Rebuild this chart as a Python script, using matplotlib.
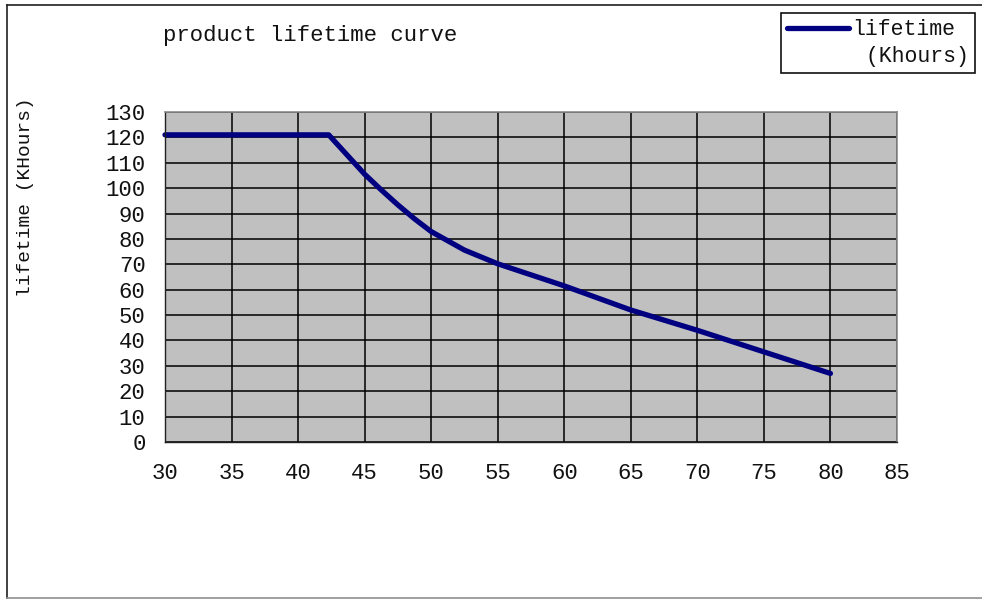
import matplotlib
matplotlib.use("Agg")
import matplotlib.pyplot as plt
from matplotlib.lines import Line2D

# data
temperature = [30, 42.3, 45, 46.25, 47.5, 48.75, 50, 52.5, 55, 60, 65, 70, 75, 80]
lifetime = [121, 121, 105.5, 99.3, 93.4, 87.9, 82.9, 75.6, 70.2, 61.5, 52, 44, 35.5, 27]
x_ticks = [30, 35, 40, 45, 50, 55, 60, 65, 70, 75, 80, 85]
y_ticks = list(range(0, 131, 10))
title = "product lifetime curve"
ylabel = "lifetime (KHours)"
legend_label_1 = "lifetime"
legend_label_2 = " (Khours)"

FONT = "Liberation Mono"
W, H = 982, 601
fig = plt.figure(figsize=(W / 100, H / 100), dpi=100)
fig.patch.set_facecolor("white")

# outer chart border
fig.add_artist(Line2D([7 / W, 1.0], [1 - 5 / H, 1 - 5 / H], color="#202020", lw=1.2, transform=fig.transFigure))
fig.add_artist(Line2D([7 / W, 7 / W], [1 - 5 / H, 1 - 598 / H], color="#202020", lw=1.2, transform=fig.transFigure))
fig.add_artist(Line2D([7 / W, 1.0], [1 - 598 / H, 1 - 598 / H], color="#909090", lw=1.2, transform=fig.transFigure))

ax = fig.add_axes([165 / W, 1 - 442 / H, (897 - 165) / W, (442 - 112) / H])
ax.set_facecolor("#C0C0C0")
ax.set_xlim(30, 85)
ax.set_ylim(0, 130)
ax.set_xticks(x_ticks)
ax.set_yticks(y_ticks)
ax.grid(True, color="black", lw=1.1)
ax.set_axisbelow(True)
for s in ["top", "right"]:
    ax.spines[s].set_color("#8a8a8a")
    ax.spines[s].set_linewidth(1.2)
for s in ["left", "bottom"]:
    ax.spines[s].set_color("#202020")
    ax.spines[s].set_linewidth(1.0)
ax.tick_params(axis="both", length=0, labelsize=16, colors="#111111")
ax.tick_params(axis="y", pad=14)
ax.tick_params(axis="x", pad=15)
for lab in ax.get_xticklabels() + ax.get_yticklabels():
    lab.set_fontfamily(FONT)

line, = ax.plot(temperature, lifetime, color="#000080", lw=3.8,
                solid_capstyle="round", solid_joinstyle="round", clip_on=False)

ax.set_ylabel(ylabel, fontfamily=FONT, fontsize=14, color="#111111", labelpad=0,
              va="center", ha="center")
ax.yaxis.set_label_coords(-(165 - 26) / (897 - 165), (442 - 197) / (442 - 112))

fig.text(163 / W, 1 - 36 / H, title, fontfamily=FONT, fontsize=16,
         ha="left", va="center", color="#111111")

blank = Line2D([], [], color="none", lw=0)
leg = fig.legend([line, blank], [legend_label_1, legend_label_2], loc="upper right",
                 bbox_to_anchor=(975 / W, 1 - 13 / H),
                 frameon=True, fancybox=False, edgecolor="#111111",
                 framealpha=1, borderpad=0.3, handlelength=2.9,
                 handletextpad=0.15, borderaxespad=0, labelspacing=0.25,
                 prop={"family": FONT, "size": 15.5})
leg.get_frame().set_linewidth(1.2)
for t in leg.get_texts():
    t.set_color("#111111")

fig.savefig("out.png", dpi=100)
